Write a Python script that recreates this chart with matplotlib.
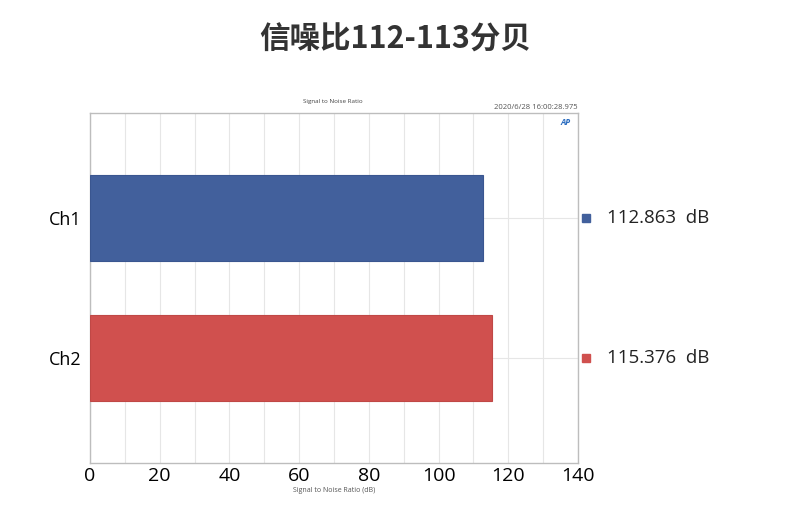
import matplotlib.pyplot as plt

# chart data
channels = ["Ch1", "Ch2"]
snr_db = [112.863, 115.376]
bar_colors = ["#42609c", "#d0504e"]
edge_colors = ["#3a5690", "#c04846"]
x_ticks = [0, 20, 40, 60, 80, 100, 120, 140]

plt.rcParams['font.family'] = ['Open Sans', 'DejaVu Sans']

fig = plt.figure(figsize=(7.9, 5.23), dpi=100)
ax = fig.add_axes([90 / 790, 1 - 463 / 523, 488 / 790, 350 / 523])

ypos = list(range(len(channels)))
ax.barh(ypos, snr_db, height=0.62, color=bar_colors, edgecolor=edge_colors, linewidth=0.8, zorder=3)

ax.set_xlim(0, 140)
ax.set_ylim(1.75, -0.75)
ax.set_xticks(x_ticks)
ax.set_xticks(range(0, 141, 10), minor=True)
ax.set_yticks(ypos)
ax.set_yticklabels(channels, fontsize=13)
ax.tick_params(axis='both', which='both', length=0, pad=6)
ax.tick_params(axis='x', labelsize=14, pad=3)
ax.grid(True, axis='x', which='both', color='#e6e6e6', linewidth=0.8, zorder=0)
ax.grid(True, axis='y', color='#e6e6e6', linewidth=0.8, zorder=0)
for s in ax.spines.values():
    s.set_color('#bdbdbd')
    s.set_linewidth(1.0)

ax.set_xlabel("Signal to Noise Ratio (dB)", fontsize=5, color='#555555', labelpad=1)

# right-side value legend
for y, v, c in zip(ypos, snr_db, bar_colors):
    ax.plot([1.016], [y], marker='s', markersize=6, color=c, transform=ax.get_yaxis_transform(), clip_on=False)
    ax.text(1.06, y, f"{v:.3f}  dB", transform=ax.get_yaxis_transform(), fontsize=13.5,
            va='center', ha='left', color='#222222')

fig.text(0.5, 1 - 40 / 523, "信噪比112-113分贝", ha='center', va='center', fontsize=22,
         fontweight='bold', color='#333333', family=['Noto Sans CJK SC', 'DejaVu Sans'])
fig.text(333 / 790, 1 - 102 / 523, "Signal to Noise Ratio", ha='center', va='center',
         fontsize=4.5, color='#444444')
fig.text(578 / 790, 1 - 108 / 523, "2020/6/28 16:00:28.975", ha='right', va='center',
         fontsize=5.5, color='#555555')
ax.text(0.985, 0.985, "AP", transform=ax.transAxes, ha='right', va='top', fontsize=6,
        color='#2a6cc0', fontweight='bold', style='italic')

fig.savefig("out.png", dpi=100)
